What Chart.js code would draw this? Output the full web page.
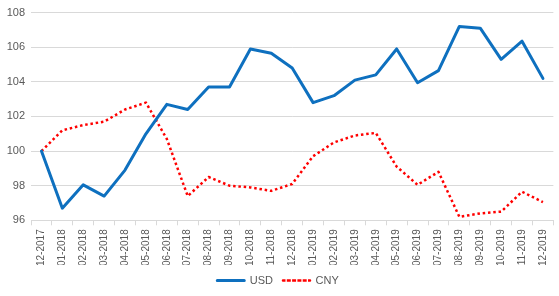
<!DOCTYPE html>
<html>
<head>
<meta charset="utf-8">
<script src="https://cdn.jsdelivr.net/npm/chart.js@4"></script>
<style>
html,body{margin:0;padding:0;background:#fff;}
#wrap{width:559px;height:296px;}
</style>
</head>
<body>
<div id="wrap"><canvas id="c" width="559" height="296"></canvas></div>
<script>
const categories = ["12-2017","01-2018","02-2018","03-2018","04-2018","05-2018","06-2018","07-2018","08-2018","09-2018","10-2018","11-2018","12-2018","01-2019","02-2019","03-2019","04-2019","05-2019","06-2019","07-2019","08-2019","09-2019","10-2019","11-2019","12-2019"];
const usdValues = [100,96.7,98.05,97.4,98.9,101.0,102.7,102.4,103.7,103.7,105.9,105.65,104.8,102.8,103.2,104.1,104.4,105.9,103.95,104.65,107.2,107.1,105.3,106.35,104.2];
const cnyValues = [100,101.2,101.5,101.7,102.4,102.8,100.7,97.4,98.5,98.0,97.9,97.7,98.1,99.7,100.5,100.9,101.05,99.1,98.05,98.8,96.2,96.4,96.5,97.65,97.05];
const yTicks = [96,98,100,102,104,106,108];

const textColor = '#595959';
const gridColor = '#d9d9d9';
const FONT = "'Liberation Sans', Arial, sans-serif";

new Chart(document.getElementById('c'), {
  type: 'line',
  data: {
    labels: categories,
    datasets: [
      {label:'USD', data: usdValues, borderColor:'#0E70BF', backgroundColor:'#0E70BF', borderWidth:3, pointRadius:0, tension:0, borderCapStyle:'round', borderJoinStyle:'round'},
      {label:'CNY', data: cnyValues, borderColor:'#FF0000', backgroundColor:'#FF0000', borderWidth:2.5, borderDash:[2.5,2.8], pointRadius:0, tension:0, borderJoinStyle:'round'}
    ]
  },
  options: {
    responsive:false,
    animation:false,
    devicePixelRatio:1,
    layout:{padding:{top:7,right:3,left:0,bottom:0}},
    plugins:{
      legend:{
        position:'bottom',
        labels:{boxWidth:27, boxHeight:0, color:textColor, font:{family:FONT,size:11}, padding:10}
      },
      tooltip:{enabled:false}
    },
    scales:{
      x:{
        offset:true,
        grid:{offset:true, drawOnChartArea:false, color:gridColor, tickLength:5},
        border:{color:gridColor},
        ticks:{color:textColor, font:{family:FONT,size:10}, maxRotation:90, minRotation:90, autoSkip:false, padding:4},
        afterFit: s => { s.height = s.height - 5; }
      },
      y:{
        min:96, max:108,
        afterBuildTicks: s => { s.ticks = yTicks.map(v=>({value:v})); },
        afterFit: s => { s.width = 31; },
        grid:{color:gridColor, drawTicks:false},
        border:{display:false},
        ticks:{color:textColor, font:{family:FONT,size:11}, padding:6}
      }
    }
  }
});
</script>
</body>
</html>
